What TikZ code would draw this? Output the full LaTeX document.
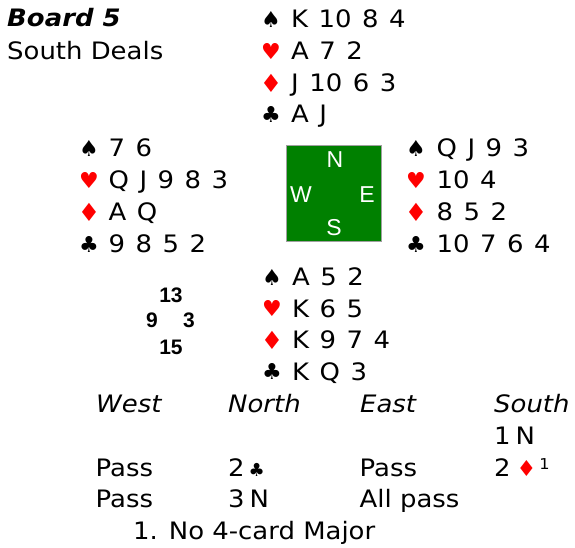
\documentclass[tikz,border=0pt]{standalone}
\usepackage{fontspec}
\setmainfont[FakeStretch=1.08]{DejaVu Sans}
\newfontfamily\suitfont{DejaVu Sans}
\newfontfamily\arialfont{Liberation Sans}
\definecolor{suitred}{RGB}{255,0,0}
\definecolor{tablegreen}{RGB}{0,128,0}
\definecolor{tableedge}{RGB}{160,160,160}
\tikzset{
  txt/.style={anchor=base west, inner sep=0pt, font=\fontsize{24}{24}\selectfont},
  cardrow/.style={txt, execute at begin node={\spaceskip=10.5pt\relax}},
  suitsym/.style={anchor=center, inner sep=0pt, font=\suitfont\fontsize{22}{22}\selectfont},
  redsym/.style={suitsym, text=suitred},
  diasym/.style={redsym, font=\suitfont\fontsize{25}{25}\selectfont},
  compass/.style={anchor=center, inner sep=0pt, text=white, font=\arialfont\fontsize{23}{23}\selectfont},
  hcp/.style={anchor=center, inner sep=0pt, font=\arialfont\bfseries\fontsize{21}{21}\selectfont},
}
\newcommand{\bidsym}[2]{{\suitfont\fontsize{#1}{#1}\selectfont #2}}
\begin{document}
\begin{tikzpicture}[x=1pt,y=-1pt]
\useasboundingbox (0,0) rectangle (575,548);
% title
\node[txt, font=\fontsize{24}{24}\selectfont\bfseries\itshape] (board) at (7,26.5) {Board 5};
\node[txt] (dealer) at (7,59.5) {South Deals};
% North
\node[suitsym] (ns) at (271,19.5) {♠};
\node[redsym]  (nh) at (271,51.5) {♥};
\node[diasym]  (nd) at (271,83) {♦};
\node[suitsym] (nc) at (271,114.5) {♣};
\node[cardrow] (nsc) at (291,28) {K 10 8 4};
\node[cardrow] (nhc) at (291,60) {A 7 2};
\node[cardrow] (ndc) at (291,91.5) {J 10 6 3};
\node[cardrow] (ncc) at (291,123) {A J};
% West
\node[suitsym] (ws) at (89,148) {♠};
\node[redsym]  (wh) at (89,180) {♥};
\node[diasym]  (wd) at (89,212) {♦};
\node[suitsym] (wc) at (89,244) {♣};
\node[cardrow] (wsc) at (108.5,156.5) {7 6};
\node[cardrow] (whc) at (108.5,188.5) {Q J 9 8 3};
\node[cardrow] (wdc) at (108.5,220.5) {A Q};
\node[cardrow] (wcc) at (108.5,252.5) {9 8 5 2};
% East
\node[suitsym] (es) at (416,148) {♠};
\node[redsym]  (eh) at (416,180) {♥};
\node[diasym]  (ed) at (416,212) {♦};
\node[suitsym] (ec) at (416,244) {♣};
\node[cardrow] (esc) at (436.5,156.5) {Q J 9 3};
\node[cardrow] (ehc) at (436.5,188.5) {10 4};
\node[cardrow] (edc) at (436.5,220.5) {8 5 2};
\node[cardrow] (ecc) at (436.5,252.5) {10 7 6 4};
% South
\node[suitsym] (ss) at (272,277) {♠};
\node[redsym]  (sh) at (272,308.5) {♥};
\node[diasym]  (sd) at (272,340) {♦};
\node[suitsym] (sc) at (272,371.5) {♣};
\node[cardrow] (ssc) at (292,285.5) {A 5 2};
\node[cardrow] (shc) at (292,317) {K 6 5};
\node[cardrow] (sdc) at (292,348.5) {K 9 7 4};
\node[cardrow] (scc) at (292,380) {K Q 3};
% table
\node[draw=tableedge, line width=1pt, fill=tablegreen, minimum size=95pt, inner sep=0pt] (table) at (334,193.5) {};
\node[compass] (cn) at (335,160) {N};
\node[compass] (cw) at (301,195) {W};
\node[compass] (ce) at (367,195) {E};
\node[compass] (cs) at (334,228) {S};
% points
\node[hcp] (pn) at (171,295.5) {13};
\node[hcp] (pw) at (152,320) {9};
\node[hcp] (pe) at (189,320) {3};
\node[hcp] (ps) at (171,347) {15};
% auction
\node[txt, font=\fontsize{24}{24}\selectfont\itshape] (hw) at (96,412) {West};
\node[txt, font=\fontsize{24}{24}\selectfont\itshape] (hn) at (228,412) {North};
\node[txt, font=\fontsize{24}{24}\selectfont\itshape] (he) at (360,412) {East};
\node[txt, font=\fontsize{24}{24}\selectfont\itshape] (hs) at (494,412) {South};
\node[txt] (b1s) at (494,444) {1\hspace{5pt}N};
\node[txt] (b2w) at (95.5,476) {Pass};
\node[txt] (b2n) at (228,476) {2\hspace{4pt}\bidsym{18}{♣}};
\node[txt] (b2s) at (494,476) {2\hspace{6pt}{\color{suitred}\bidsym{22}{♦}}\hspace{3pt}{\fontsize{15}{15}\selectfont\raisebox{7pt}{1}}};
\node[txt] (b2e) at (359.5,476) {Pass};
\node[txt] (b3w) at (95.5,507.5) {Pass};
\node[txt] (b3n) at (228,507.5) {3\hspace{5pt}N};
\node[txt] (b3e) at (359.5,507.5) {All pass};
\node[txt] (note) at (133,539) {1. No 4-card Major};
\end{tikzpicture}
\end{document}
